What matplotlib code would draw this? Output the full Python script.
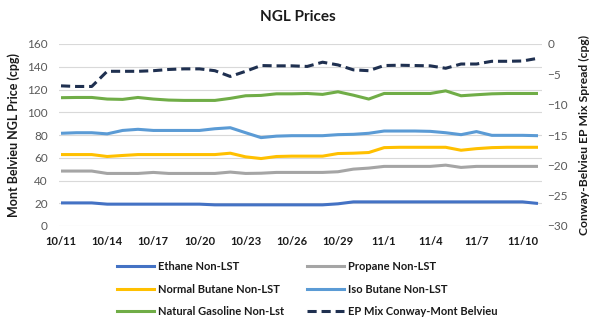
import matplotlib
matplotlib.use("Agg")
import matplotlib.pyplot as plt
from matplotlib.lines import Line2D
import numpy as np

plt.rcParams['font.family'] = ['Lato', 'DejaVu Sans']

dates = ["10/11", "10/12", "10/13", "10/14", "10/15", "10/16", "10/17", "10/18",
         "10/19", "10/20", "10/21", "10/22", "10/23", "10/24", "10/25", "10/26",
         "10/27", "10/28", "10/29", "10/30", "10/31", "11/1", "11/2", "11/3",
         "11/4", "11/5", "11/6", "11/7", "11/8", "11/9", "11/10", "11/11"]

ethane = [20.3, 20.3, 20.3, 19.2, 19.2, 19.2, 19.2, 19.2, 19.2, 19.2, 18.6, 18.6,
          18.6, 18.6, 18.6, 18.6, 18.6, 18.6, 19.5, 21.2, 21.2, 21.2, 21.2, 21.2,
          21.2, 21.2, 21.2, 21.2, 21.2, 21.2, 21.2, 19.8]
propane = [48.3, 48.3, 48.3, 46.2, 46.2, 46.2, 47.1, 46.2, 46.2, 46.2, 46.2, 47.4,
           46.2, 46.4, 47.1, 47.1, 47.1, 47.1, 47.7, 50.0, 50.9, 52.4, 52.4, 52.4,
           52.4, 53.5, 51.5, 52.4, 52.4, 52.4, 52.4, 52.4]
normal_butane = [62.8, 62.8, 62.8, 61.1, 62.0, 62.8, 62.8, 62.8, 62.8, 62.8, 62.8, 64.0,
                 60.8, 59.3, 61.1, 61.4, 61.4, 61.4, 63.7, 64.0, 64.6, 68.9, 69.2, 69.2,
                 69.2, 69.2, 66.6, 68.0, 68.9, 69.2, 69.2, 69.2]
iso_butane = [81.5, 82.0, 82.0, 81.0, 84.0, 85.0, 84.0, 84.0, 84.0, 84.0, 85.5, 86.4,
              82.0, 77.7, 79.0, 79.4, 79.4, 79.4, 80.3, 80.6, 81.5, 83.5, 83.5, 83.5,
              83.2, 82.0, 80.3, 83.0, 79.7, 79.7, 79.7, 79.4]
nat_gasoline = [112.8, 113.0, 113.0, 111.6, 111.3, 113.0, 111.6, 110.7, 110.4, 110.4, 110.4, 112.2,
                114.5, 114.8, 116.2, 116.2, 116.5, 115.7, 118.0, 115.0, 111.6, 116.5, 116.5, 116.5,
                116.5, 118.8, 114.5, 115.4, 116.2, 116.5, 116.5, 116.5]
ep_mix = [-6.9, -7.0, -7.0, -4.5, -4.5, -4.5, -4.4, -4.2, -4.1, -4.1, -4.4, -5.35,
          -4.5, -3.55, -3.6, -3.6, -3.7, -3.0, -3.45, -4.26, -4.4, -3.55, -3.5, -3.55,
          -3.6, -4.0, -3.3, -3.3, -2.85, -2.85, -2.8, -2.35]

left_ticks = [0, 20, 40, 60, 80, 100, 120, 140, 160]
right_ticks = [-30, -25, -20, -15, -10, -5, 0]
label_every = 3

series = [
    ("Ethane Non-LST", ethane, "#4472C4"),
    ("Propane Non-LST", propane, "#A5A5A5"),
    ("Normal Butane Non-LST", normal_butane, "#FFC000"),
    ("Iso Butane Non-LST", iso_butane, "#5B9BD5"),
    ("Natural Gasoline Non-Lst", nat_gasoline, "#70AD47"),
]
ep_label = "EP Mix Conway-Mont Belvieu"
ep_color = "#1F3050"
dash = (0, (3.0, 1.6))

W, H = 605, 324
fig = plt.figure(figsize=(W / 100, H / 100), dpi=100)
ax = fig.add_axes([59 / W, 1 - 226 / H, (542 - 59) / W, (226 - 44) / H])
ax2 = ax.twinx()

x = np.arange(len(dates))
lw = 2.2
for name, vals, col in series:
    ax.plot(x, vals, color=col, lw=lw, solid_capstyle='butt', zorder=3)
ax2.plot(x, ep_mix, color=ep_color, lw=lw, ls=dash, dash_capstyle='butt', zorder=3)

ax.set_ylim(0, 160)
ax.set_yticks(left_ticks)
ax2.set_ylim(-30, 0)
ax2.set_yticks(right_ticks)
ax.set_xlim(-0.13, len(dates) - 1 + 0.26)
ax.set_xticks(x[::label_every])
ax.set_xticklabels(dates[::label_every], fontsize=8, fontweight='bold', color='#1a1a1a')

ax.grid(axis='y', color='#D9D9D9', lw=0.8, zorder=0)
for a in (ax, ax2):
    for s in a.spines.values():
        s.set_visible(False)
    a.tick_params(length=0)
ax.tick_params(axis='y', labelsize=8.5, labelcolor='#595959', pad=8)
ax2.tick_params(axis='y', labelsize=8.5, labelcolor='#595959', pad=4)
ax.tick_params(axis='x', pad=7)

ax.set_ylabel("Mont Belvieu NGL Price (cpg)", fontsize=9, fontweight='bold', color='#1a1a1a', labelpad=5)
ax2.set_ylabel("Conway-Belvieu EP Mix Spread (cpg)", fontsize=8.7, fontweight='bold', color='#1a1a1a',
               rotation=90, labelpad=8)

fig.text(298 / W, 1 - 17 / H, "NGL Prices", ha='center', va='center', fontsize=11, fontweight='bold',
         color='#1a1a1a')

h = [Line2D([], [], color=c, lw=lw) for _, _, c in series]
h_ep = Line2D([], [], color=ep_color, lw=lw, ls=dash)
col1 = [h[0], h[2], h[4]]
lab1 = [series[0][0], series[2][0], series[4][0]]
col2 = [h[1], h[3], h_ep]
lab2 = [series[1][0], series[3][0], ep_label]
common = dict(frameon=False, fontsize=8, handlelength=3.3, handletextpad=0.4,
              labelspacing=1.05, borderaxespad=0, borderpad=0)
leg1 = fig.legend(col1, lab1, loc='upper left', bbox_to_anchor=(117 / W, 1 - 261 / H), **common)
leg2 = fig.legend(col2, lab2, loc='upper left', bbox_to_anchor=(307 / W, 1 - 261 / H), **common)
for lg in (leg1, leg2):
    for t in lg.get_texts():
        t.set_fontweight('bold')
        t.set_color('#1a1a1a')

fig.savefig("out.png", dpi=100)
